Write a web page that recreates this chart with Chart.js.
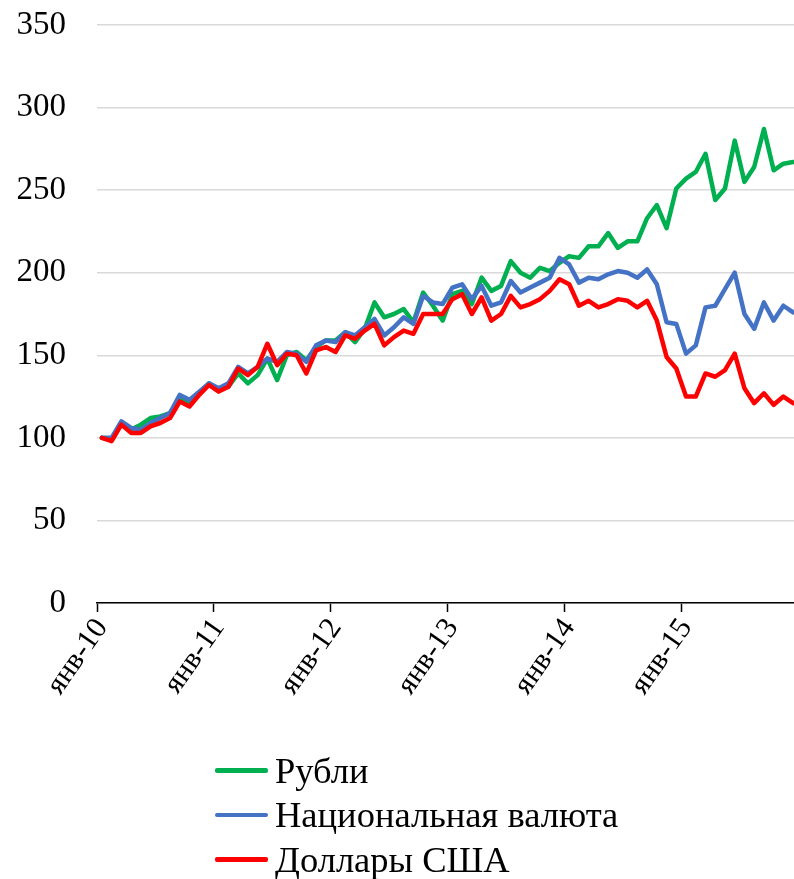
<!DOCTYPE html>
<html><head><meta charset="utf-8">
<script src="https://cdn.jsdelivr.net/npm/chart.js@4.4.1/dist/chart.umd.min.js"></script>
<style>
html,body{margin:0;padding:0;background:#fff;overflow:hidden;}
#wrap{position:relative;width:794px;height:879px;overflow:hidden;}
#legend{position:absolute;left:215px;top:748px;font-family:"Liberation Serif",serif;font-size:36.5px;color:#000;}
.item{display:flex;align-items:center;height:44.5px;white-space:nowrap;}
.sw{width:53px;height:4.5px;border-radius:2px;margin-right:7px;}
</style></head><body>
<div id="wrap"><canvas id="c" width="798" height="879"></canvas><div id="legend"></div></div>
<script>
const monthNames = ['янв','фев','мар','апр','май','июн','июл','авг','сен','окт','ноя','дек'];
const yearLabels = ['10','11','12','13','14','15'];
const categories = [];
yearLabels.forEach(y => monthNames.forEach(m => categories.push(m + '-' + y)));

const seriesNames = ['Рубли', 'Национальная валюта', 'Доллары США'];
const seriesColors = ['#00B050', '#4472C4', '#FF0000'];

const rubles = [100, 99, 109, 105, 108, 112, 113, 115, 124, 121, 127, 133,
  129, 131, 139, 133, 138, 148, 135, 150, 152, 147, 155, 159,
  159, 164, 158, 166, 182, 173, 175, 178, 170, 188, 180, 171,
  187, 189, 181, 197, 189, 192, 207, 200, 197, 203, 201, 206,
  210, 209, 216, 216, 224, 215, 219, 219, 233, 241, 227, 251,
  257, 261, 272, 244, 251, 280, 255, 264, 287, 262, 266, 267];

const nationalCurrency = [100, 100, 110, 106, 105, 109, 112, 115, 126, 123, 128, 133,
  130, 133, 143, 139, 143, 148, 146, 152, 151, 146, 156, 159,
  158, 164, 162, 167, 172, 162, 167, 173, 169, 186, 182, 181,
  191, 193, 184, 192, 180, 182, 195, 188, 191, 194, 197, 209,
  205, 194, 197, 196, 199, 201, 200, 197, 202, 193, 170, 169,
  151, 156, 179, 180, 190, 200, 175, 166, 182, 171, 180, 176];

const usDollars = [100, 98, 108, 103, 103, 107, 109, 112, 122, 119, 126, 132,
  128, 131, 142, 138, 143, 157, 144, 151, 150, 139, 153, 155,
  152, 162, 160, 165, 169, 156, 161, 165, 163, 175, 175, 175,
  184, 187, 175, 185, 171, 175, 186, 179, 181, 184, 189, 196,
  193, 180, 183, 179, 181, 184, 183, 179, 183, 171, 149, 142,
  125, 125, 139, 137, 141, 151, 130, 121, 127, 120, 125, 121];

const yTickValues = [0, 50, 100, 150, 200, 250, 300, 350];

const FONT = '"Liberation Serif", "Times New Roman", serif';
const seriesData = [rubles, nationalCurrency, usDollars];

const chart = new Chart(document.getElementById('c'), {
  type: 'line',
  data: {
    labels: categories,
    datasets: seriesData.map((d, i) => ({
      label: seriesNames[i],
      data: d,
      borderColor: seriesColors[i],
      backgroundColor: seriesColors[i],
      borderWidth: 4.5,
      pointRadius: 0,
      tension: 0,
      fill: false,
      borderJoinStyle: 'round',
      borderCapStyle: 'round',
      order: 3 - i
    }))
  },
  options: {
    responsive: false,
    animation: false,
    devicePixelRatio: 1,
    layout: { padding: { top: 25, right: 0, left: 0, bottom: 0 } },
    plugins: { legend: { display: false }, tooltip: { enabled: false } },
    scales: {
      x: {
        type: 'category',
        offset: true,
        grid: {
          offset: true,
          drawOnChartArea: false,
          drawTicks: true,
          tickLength: 9,
          tickWidth: 1.5,
          tickColor: ctx => (ctx.index !== undefined && ctx.index % 12 === 0 && ctx.index < categories.length) ? '#000' : 'rgba(0,0,0,0)'
        },
        border: { display: true, color: '#000', width: 1.5 },
        ticks: {
          autoSkip: false,
          maxRotation: 55,
          minRotation: 55,
          padding: 0,
          color: '#000',
          font: { family: FONT, size: 30 },
          callback: (v, i) => (i % 12 === 0 ? categories[i] : '')
        },
        afterFit: s => { s.height = 276; s.paddingLeft = 0; s.paddingRight = 0; s.paddingTop = 0; s.paddingBottom = 0; }
      },
      y: {
        min: 0,
        max: 350,
        afterBuildTicks: s => { s.ticks = yTickValues.map(v => ({ value: v })); },
        grid: { color: '#D9D9D9', lineWidth: 1.5, drawTicks: false },
        border: { display: false },
        ticks: {
          padding: 31,
          color: '#000',
          font: { family: FONT, size: 33 }
        },
        afterFit: s => { s.width = 97; s.paddingTop = 0; s.paddingBottom = 0; }
      }
    }
  }
});

const legend = document.getElementById('legend');
chart.data.datasets.forEach(ds => {
  const row = document.createElement('div');
  row.className = 'item';
  const sw = document.createElement('span');
  sw.className = 'sw';
  sw.style.background = ds.borderColor;
  const t = document.createElement('span');
  t.textContent = ds.label;
  row.appendChild(sw);
  row.appendChild(t);
  legend.appendChild(row);
});
</script>
</body></html>
